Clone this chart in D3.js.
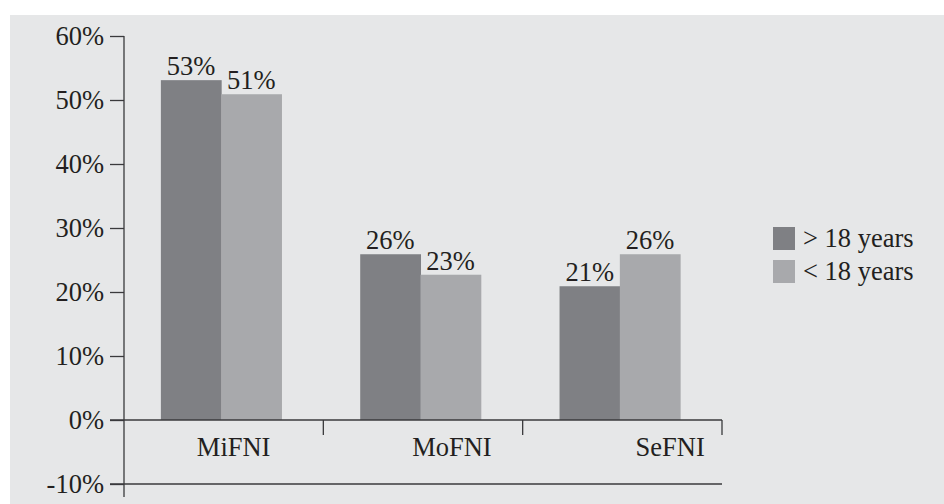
<!DOCTYPE html>
<html>
<head>
<meta charset="utf-8">
<script src="https://d3js.org/d3.v7.min.js"></script>
<style>
  body { margin: 0; background: #ffffff; }
  svg { display: block; }
  text { font-family: "Liberation Serif", "Times New Roman", serif; fill: #231f20; }
</style>
</head>
<body>
<div id="chart"></div>
<script>
// data
var categories = ["MiFNI", "MoFNI", "SeFNI"];
var seriesNames = ["> 18 years", "< 18 years"];
var olderValues = [53.1, 25.9, 20.9];   // > 18 years
var youngerValues = [50.9, 22.7, 25.9]; // < 18 years
var valueLabels = [["53%", "51%"], ["26%", "23%"], ["21%", "26%"]];
var yTicks = [-10, 0, 10, 20, 30, 40, 50, 60];

var width = 944, height = 504;
var colors = ["#7f8084", "#a8a9ac"];
var fontSize = "26.5px";

var svg = d3.select("#chart").append("svg")
  .attr("width", width).attr("height", height);

// grey panel
svg.append("rect")
  .attr("x", 10).attr("y", 15)
  .attr("width", width - 10).attr("height", height - 15)
  .attr("fill", "#e6e7e8");

// scales
var y = d3.scaleLinear().domain([-10, 60]).range([484, 36]);
var x0 = d3.scaleBand().domain(categories).range([124, 722]).padding(0);
var bw = x0.bandwidth();
var x1 = d3.scaleBand().domain(seriesNames).range([bw * 0.185, bw * 0.79]).padding(0);

var rows = categories.map(function(c, i) {
  return { cat: c, i: i, vals: [olderValues[i], youngerValues[i]] };
});

function barData(d) {
  return d.vals.map(function(v, k) {
    return { s: seriesNames[k], k: k, v: v, label: valueLabels[d.i][k] };
  });
}

// bars
var groups = svg.selectAll(".grp")
  .data(rows).enter().append("g")
  .attr("class", "grp")
  .attr("transform", function(d) { return "translate(" + x0(d.cat) + ",0)"; });

groups.selectAll("rect")
  .data(barData)
  .enter().append("rect")
  .attr("x", function(d) { return x1(d.s); })
  .attr("width", x1.bandwidth() + 0.5)
  .attr("y", function(d) { return y(d.v); })
  .attr("height", function(d) { return y(0) - y(d.v); })
  .attr("fill", function(d) { return colors[d.k]; });

groups.selectAll(".vlab")
  .data(barData)
  .enter().append("text")
  .attr("class", "vlab")
  .attr("x", function(d) { return x1(d.s) + x1.bandwidth() / 2; })
  .attr("y", function(d) { return y(d.v) - 5; })
  .attr("text-anchor", "middle")
  .style("font-size", fontSize)
  .text(function(d) { return d.label; });

// y axis
var yAxis = d3.axisLeft(y)
  .tickValues(yTicks)
  .tickSize(14)
  .tickPadding(6)
  .tickFormat(function(d) { return d + "%"; });

var gy = svg.append("g")
  .attr("transform", "translate(124,0)")
  .call(yAxis)
  .attr("font-size", null)
  .attr("font-family", null);
gy.select(".domain").remove();
gy.selectAll("line").attr("stroke", "#3a3a3c").attr("stroke-width", 1.3);
gy.selectAll("text")
  .style("font-size", fontSize)
  .attr("fill", "#231f20")
  .attr("dy", "0.33em");

svg.append("line")
  .attr("x1", 124).attr("x2", 124)
  .attr("y1", y(60)).attr("y2", y(-10) + 13)
  .attr("stroke", "#3a3a3c").attr("stroke-width", 1.3);

// horizontal axis lines at 0% and -10%
[0, -10].forEach(function(v) {
  svg.append("line")
    .attr("x1", 110).attr("x2", x0.range()[1])
    .attr("y1", y(v)).attr("y2", y(v))
    .attr("stroke", "#3a3a3c").attr("stroke-width", 1.3);
});

// category ticks
svg.selectAll(".ctick")
  .data(categories).enter().append("line")
  .attr("class", "ctick")
  .attr("x1", function(d) { return x0(d) + bw; })
  .attr("x2", function(d) { return x0(d) + bw; })
  .attr("y1", y(0)).attr("y2", y(0) + 15)
  .attr("stroke", "#3a3a3c").attr("stroke-width", 1.3);

// category labels (drift rightwards like the original)
var labelPos = d3.scaleLinear().domain([0, categories.length - 1]).range([0.55, 0.74]);
svg.selectAll(".clab")
  .data(categories).enter().append("text")
  .attr("class", "clab")
  .attr("x", function(d, i) { return x0(d) + bw * labelPos(i); })
  .attr("y", y(0) + 36)
  .attr("text-anchor", "middle")
  .style("font-size", fontSize)
  .text(function(d) { return d; });

// legend
var legend = svg.selectAll(".leg")
  .data(seriesNames).enter().append("g")
  .attr("class", "leg")
  .attr("transform", function(d, i) { return "translate(773," + (227 + i * 33) + ")"; });
legend.append("rect")
  .attr("width", 22).attr("height", 23)
  .attr("fill", function(d, i) { return colors[i]; });
legend.append("text")
  .attr("x", 30).attr("y", 20)
  .style("font-size", fontSize)
  .text(function(d) { return d; });
</script>
</body>
</html>
